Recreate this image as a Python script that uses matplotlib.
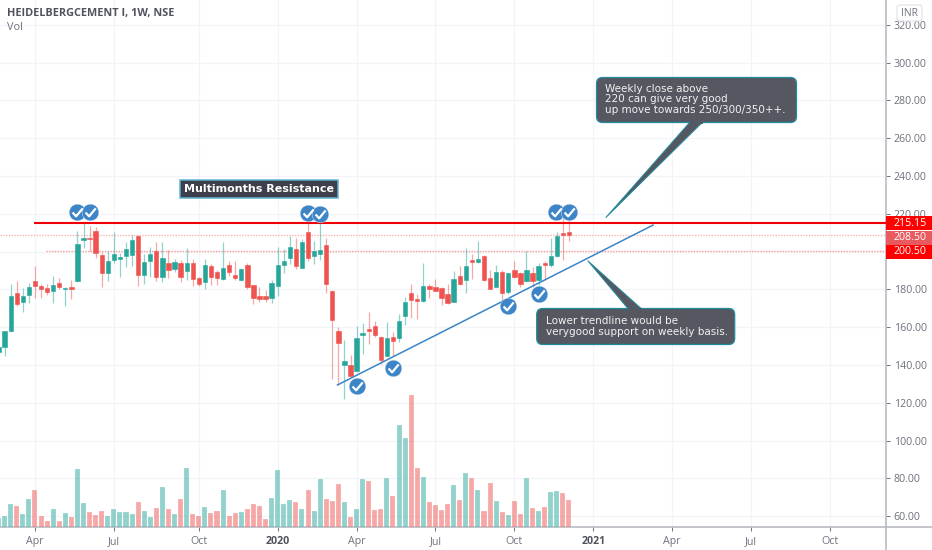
"""
Weekly candlestick chart with volume, trendlines and callouts.
"""

import matplotlib
matplotlib.use('Agg')
import matplotlib.dates as mdates
import matplotlib.pyplot as plt
import numpy as np
import pandas as pd
from matplotlib.lines import Line2D
from matplotlib.patches import FancyBboxPatch, Polygon, Rectangle
from matplotlib.path import Path
from matplotlib.transforms import Affine2D

### Data
first_week = '2019-02-18'

opens = [146.9, 149.7, 158, 177.9, 173.3, 176.9, 184.3, 182, 180.9, 179, 183.2, 180.2, 181.1, 184.6, 206.3, 207,
         210.9, 198.2, 188.7, 195.6, 196.3, 197.9, 198.4, 208.3, 187.4, 195.2, 200.3, 186.7, 193.8, 190.8, 194,
         189.9, 194, 185.9, 183.9, 192.4, 189.2, 185.3, 192.9, 187.6, 185, 192.9, 182.2, 176.7, 176.3, 175.6, 182,
         193.1, 196.4, 201.2, 191.3, 210.2, 197.9, 198.7, 203.3, 179.1, 158, 140, 140, 137, 156, 159, 160.8, 155,
         144.8, 154.8, 154.3, 165.9, 177.9, 174.9, 173.9, 181.8, 181.4, 180.9, 177.4, 173.5, 186.9, 185, 195.4,
         194.7, 197.9, 185.9, 181.4, 189.2, 178.8, 190.3, 188.5, 184.6, 188.7, 185, 194, 192.9, 197.9, 209.7, 210.2]
highs = [149.7, 158, 182.9, 184.6, 180.6, 183.6, 192.4, 182.9, 182.9, 187, 185.9, 181.1, 185, 211, 215.3, 213.5,
         212.8, 200, 200.5, 210.5, 199.1, 205.3, 208.8, 208.8, 198.7, 202.6, 205.3, 205.1, 200.8, 195.9, 195.6,
         201.7, 195.9, 186.4, 195.9, 193.4, 190.3, 205.3, 195, 195, 191.1, 193.8, 182.3, 181.1, 179.7, 185, 202.3,
         201.2, 208.3, 207, 206.5, 216.4, 205.8, 216.4, 207, 179.7, 159.9, 153.2, 145.3, 160.8, 162, 168.2, 163.4,
         155.3, 162.9, 157.6, 167, 175.8, 182.7, 177.6, 193.8, 183, 185.5, 181.4, 182.7, 189.9, 192.6, 201.7, 198.7,
         205.6, 198.2, 190.3, 192.9, 190.3, 188.9, 195, 189.4, 200.3, 192, 193.8, 195.2, 207, 210.2, 218.5, 216.7]
lows = [146.2, 144.8, 157.6, 171.4, 168.2, 172.6, 175.3, 175.3, 177, 172.6, 180, 171.2, 174.7, 184.1, 201.7, 200.5,
        196.8, 181.1, 184.6, 194.1, 186.7, 192, 192.4, 181.8, 182.7, 186.4, 184.6, 184.1, 185.9, 189, 184.1,
        185, 181.8, 182, 180.4, 182.3, 182.3, 185, 187, 185, 184.6, 180, 172.3, 173.5, 173.5, 173, 176.5,
        188.9, 193.4, 191, 191.1, 195.2, 193.4, 195.6, 177.9, 132.4, 129.4, 121.8, 133.5, 136.5, 145.8, 151.1, 155,
        140.5, 144.4, 144.8, 152.2, 161.3, 164.7, 164.2, 173.5, 175.3, 179.2, 171.7, 172.1, 173.2, 182.3, 178.3, 185.5,
        194.1, 184.6, 180, 181.1, 174, 177.6, 186, 181.4, 183.7, 181.1, 182.3, 185, 192, 197.3, 195.6, 205.6]
closes = [149.4, 157.8, 176.5, 172.3, 176.5, 181.4, 181.8, 180.2, 178.8, 182.2, 181.3, 180.6, 180, 204, 207, 206.7,
          199.1, 188.5, 195, 198.6, 197, 201.6, 206.3, 187.8, 194.7, 198.6, 186.7, 196.8, 190.3, 194.7, 186.6,
          194, 185.3, 183, 192.7, 186.7, 186, 191.1, 189, 185.9, 190.6, 181.1, 175.4, 174.7, 174.7, 183.6, 192.7,
          195.2, 202.4, 192.4, 205.3, 196.8, 200.1, 200.8, 183, 163.8, 151.8, 142.1, 134.2, 154.3, 156.7, 158, 155.7,
          142.6, 154.3, 152.9, 163.3, 173.5, 174.2, 174, 181.8, 180.4, 179.3, 175.3, 173, 185.3, 183, 192.2, 194.5,
          195.9, 185, 180.4, 189, 177.9, 188.5, 186.7, 182.9, 190.3, 184.6, 192.2, 193.1, 197.7, 208.4, 208.8, 208.5]
volumes = [25, 33, 69, 63, 38, 83, 110, 32, 17, 53, 18, 40, 28, 173, 71, 44, 34, 48, 32, 52, 44, 44, 38, 75, 46, 28,
           56, 118, 53, 38, 83, 177, 38, 32, 59, 41, 46, 110, 32, 40, 44, 53, 67, 63, 22, 87, 171, 69, 81, 75, 52,
           110, 47, 143, 83, 77, 128, 75, 28, 52, 143, 138, 50, 52, 147, 91, 306, 265, 396, 175, 149, 75, 65, 50,
           67, 126, 79, 161, 145, 109, 46, 130, 77, 44, 36, 77, 38, 145, 56, 46, 58, 103, 107, 101, 81]

price_ticks = [60, 80, 100, 120, 140, 160, 180, 200, 220, 240, 260, 280, 300, 320]
time_ticks = ['2019-04-01', '2019-07-01', '2019-10-07', '2020-01-06', '2020-04-06', '2020-07-06', '2020-10-05',
              '2021-01-04', '2021-04-05', '2021-07-05', '2021-10-04']
time_labels = ['Apr', 'Jul', 'Oct', '2020', 'Apr', 'Jul', 'Oct', '2021', 'Apr', 'Jul', 'Oct']

resistance_start = '2019-03-31'
resistance_level = 215.15
level_upper = 208.50
level_lower = 200.50
level_lower_start = '2019-04-14'
trend_dates = ['2020-03-15', '2021-03-14']
trend_prices = [129.4, 214.0]

badge_dates = ['2019-05-19', '2019-06-03', '2020-02-10', '2020-02-24', '2020-04-06', '2020-05-18', '2020-09-28',
               '2020-11-02', '2020-11-22', '2020-12-07']
badge_prices = [221.1, 221.1, 220.6, 219.9, 128.9, 138.5, 171.0, 177.4, 221.1, 221.1]

### Colours
GREEN = '#26a69a'
RED = '#ef5350'
GRID = '#f3f4f9'
AXIS = '#b8bbc4'
LABEL = '#6f727d'
NOTE = '#555861'
NOTE_EDGE = '#1f8c9e'

plt.rcParams['font.family'] = ['Open Sans', 'DejaVu Sans']

fig = plt.figure(figsize=(9.32, 5.5), dpi=100)
ax = fig.add_axes([0, 23.5 / 550, 886 / 932, 526.5 / 550])
ax_vol = fig.add_axes(ax.get_position(), sharex=ax, zorder=2)
ax_vol.patch.set_alpha(0)
ax_vol.axis('off')

# image pixels, y going down
px = Affine2D().scale(1, -1).translate(0, 550)

weeks = mdates.date2num(pd.date_range(first_week, periods=len(opens), freq='7D'))
opens, highs, lows, closes = map(np.array, (opens, highs, lows, closes))
colors = np.where(closes >= opens, GREEN, RED)

ax_vol.bar(weeks, volumes, width=5.8, color=colors, alpha=0.5, edgecolor='white', linewidth=0.3)
ax_vol.set_ylim(0, 1579.5)

ax.vlines(weeks, lows, highs, colors=colors, linewidth=0.9, alpha=0.5, zorder=3)
ax.bar(weeks, np.abs(closes - opens), bottom=np.minimum(opens, closes), width=5.0, color=colors, zorder=4,
       edgecolor=colors, linewidth=0.4)

ax.set_xlim(weeks[1] - 0.763 * 7, weeks[1] + 145.25 * 7)
ax.set_ylim(54.5, 333.1)

# levels and trendlines
ax.hlines(resistance_level, mdates.datestr2num(resistance_start), ax.get_xlim()[1], color='#f00000', linewidth=1.5,
          zorder=5)
ax.axhline(level_upper, color='#f9b4b2', linewidth=1.0, linestyle=(0, (1, 1)), zorder=1)
ax.hlines(level_lower, mdates.datestr2num(level_lower_start), ax.get_xlim()[1], color='#f79a98', linewidth=1.0,
          linestyle=(0, (1, 1)), zorder=1)
ax.plot(mdates.datestr2num(trend_dates), trend_prices, color='#3a85c6', linewidth=1.1, zorder=5)

# check badges
badge_x = mdates.datestr2num(badge_dates)
tick_path = Path([(-0.36, 0.0), (-0.1, -0.28), (0.38, 0.3)], [Path.MOVETO, Path.LINETO, Path.LINETO])
ax.scatter(badge_x, badge_prices, s=145, color='#3d85c6', edgecolor='#eaf2fa', linewidth=0.3, zorder=6)
ax.plot(badge_x, badge_prices, linestyle='none', marker=tick_path, markersize=7.5, markerfacecolor='none',
        markeredgecolor='white', markeredgewidth=1.6, zorder=7)

# axes
for name in ('top', 'left'):
    ax.spines[name].set_visible(False)
for name in ('right', 'bottom'):
    ax.spines[name].set_color(AXIS)
    ax.spines[name].set_linewidth(1.2)
ax.yaxis.tick_right()
ax.set_yticks(price_ticks)
ax.set_yticklabels(['%.2f' % p for p in price_ticks])
ax.set_xticks(mdates.datestr2num(time_ticks))
ax.set_xticklabels(time_labels)
ax.tick_params(axis='y', length=2.6, width=0.7, color=LABEL, labelcolor=LABEL, labelsize=7.7, pad=3)
ax.tick_params(axis='x', length=2.6, width=0.7, color=LABEL, labelcolor=LABEL, labelsize=7.7, pad=4)
for label, text in zip(ax.get_xticklabels(), time_labels):
    if text.isdigit():
        label.set_fontweight('bold')
        label.set_color('#50535e')
ax.grid(True, color=GRID, linewidth=0.9, zorder=0)
ax.set_axisbelow(True)

ax.add_line(Line2D([886, 932], [526.5, 526.5], transform=px, color=AXIS, linewidth=1.2, clip_on=False))
ax.add_line(Line2D([886, 886], [526.5, 550], transform=px, color=AXIS, linewidth=1.2, clip_on=False))

# price labels
for top, height, color, text in [(216, 14, '#ff0000', '215.15'), (231, 14, '#e85a5f', '208.50'),
                                 (245, 14, '#ff0000', '200.50')]:
    ax.add_patch(Rectangle((886, top), 46, height, transform=px, facecolor=color, edgecolor='none', clip_on=False,
                           zorder=8))
    ax.text(894, top + height / 2, text, transform=px, color='white', fontsize=7.7, va='center', ha='left', zorder=9)

ax.add_patch(FancyBboxPatch((899, 7), 21, 12, boxstyle='round,pad=2,rounding_size=3', transform=px, facecolor='white',
                            edgecolor='#e3e5ea', linewidth=0.9, clip_on=False, zorder=8))
ax.text(909.5, 13, 'INR', transform=px, color=LABEL, fontsize=7.5, va='center', ha='center', zorder=9)

# title
ax.text(7, 13.5, 'HEIDELBERGCEMENT I, 1W, NSE', transform=px, color='#50535e', fontsize=7.8, fontweight='bold',
        va='center')
ax.text(7, 27.5, 'Vol', transform=px, color=LABEL, fontsize=7.8, va='center')

# callouts
notes = [
    ((596.5, 77.5, 200, 45), [(690, 122), (702.7, 122), (605.7, 217.7)], 122.5, (605, 99.5),
     'Weekly close above\n220 can give very good\nup move towards 250/300/350++.'),
    ((536.7, 308.5, 198, 36), [(628.3, 309), (641.7, 309), (587.7, 260.7)], 308.5, (545.5, 326.5),
     'Lower trendline would be\nverygood support on weekly basis.'),
]
for (x, y, w, h), tail, seam, (tx, ty), text in notes:
    ax.add_patch(Polygon(tail, closed=True, transform=px, facecolor=NOTE, edgecolor=NOTE_EDGE, linewidth=0.7,
                         zorder=10, clip_on=False))
    ax.add_patch(FancyBboxPatch((x + 6, y + 6), w - 12, h - 12, boxstyle='round,pad=6,rounding_size=6', transform=px,
                                facecolor=NOTE, edgecolor=NOTE_EDGE, linewidth=0.9, zorder=10, clip_on=False))
    ax.add_line(Line2D([tail[0][0] + 0.5, tail[1][0] - 0.5], [seam, seam], transform=px, color=NOTE, linewidth=1.4,
                       zorder=11, clip_on=False))
    ax.text(tx, ty, text, transform=px, color='#f2f2f2', fontsize=7.5, family='DejaVu Sans', linespacing=1.03,
            va='center', ha='left', zorder=12)

ax.add_patch(Rectangle((180, 179.5), 158, 18.5, transform=px, facecolor='#3d3f4a', edgecolor='#5fb4d2', linewidth=1.1,
                       zorder=10, clip_on=False))
ax.text(259, 189, 'Multimonths Resistance', transform=px, color='white', fontsize=8.05, fontweight='bold',
        family='DejaVu Sans', va='center', ha='center', zorder=11)

fig.savefig('out.png', dpi=100)
